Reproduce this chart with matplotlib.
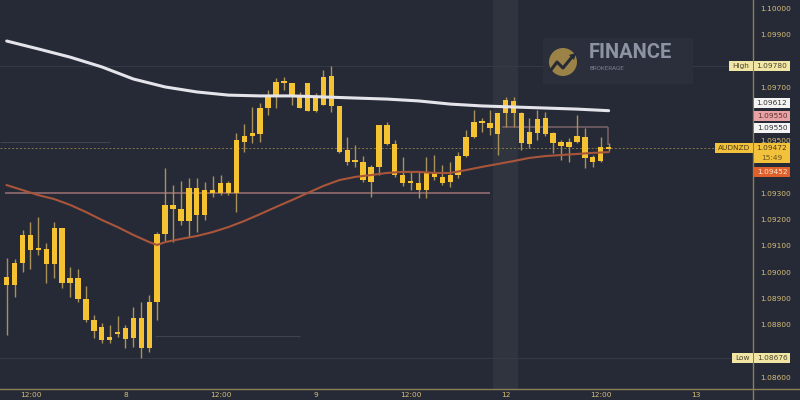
import matplotlib
matplotlib.use('Agg')
import matplotlib.pyplot as plt
from matplotlib.patches import Rectangle, Circle, Polygon
from matplotlib.lines import Line2D

# --- AUDNZD 1h candles ---
opens = [1.08982, 1.08951, 1.09035, 1.09141, 1.09084, 1.09088, 1.09031, 1.09167, 1.08959, 1.08978,
         1.08898, 1.08819, 1.08792, 1.08743, 1.08766, 1.08788, 1.08750, 1.08826, 1.08713, 1.08887,
         1.09145, 1.09255, 1.09239, 1.09194, 1.09319, 1.09217, 1.09311, 1.09300, 1.09338, 1.09300,
         1.09493, 1.09516, 1.09524, 1.09622, 1.09667, 1.09721, 1.09717, 1.09671, 1.09611, 1.09664,
         1.09633, 1.09743, 1.09630, 1.09463, 1.09417, 1.09417, 1.09342, 1.09399, 1.09558, 1.09486,
         1.09368, 1.09338, 1.09338, 1.09311, 1.09376, 1.09361, 1.09342, 1.09368, 1.09440, 1.09512,
         1.09569, 1.09565, 1.09524, 1.09603, 1.09649, 1.09603, 1.09486, 1.09527, 1.09584, 1.09527,
         1.09493, 1.09474, 1.09493, 1.09512, 1.09436, 1.09421, 1.09466]
highs = [1.09054, 1.09050, 1.09160, 1.09190, 1.09209, 1.09110, 1.09190, 1.09167, 1.09020, 1.09012,
         1.08948, 1.08838, 1.08807, 1.08800, 1.08834, 1.08800, 1.08868, 1.08887, 1.08913, 1.09152,
         1.09395, 1.09330, 1.09345, 1.09357, 1.09357, 1.09342, 1.09364, 1.09368, 1.09345, 1.09527,
         1.09562, 1.09626, 1.09641, 1.09690, 1.09736, 1.09740, 1.09717, 1.09683, 1.09717, 1.09679,
         1.09766, 1.09780, 1.09630, 1.09512, 1.09482, 1.09440, 1.09406, 1.09558, 1.09569, 1.09501,
         1.09436, 1.09380, 1.09380, 1.09436, 1.09444, 1.09406, 1.09417, 1.09455, 1.09539, 1.09615,
         1.09584, 1.09615, 1.09603, 1.09664, 1.09664, 1.09607, 1.09584, 1.09615, 1.09607, 1.09531,
         1.09501, 1.09508, 1.09596, 1.09546, 1.09444, 1.09512, 1.09490]
lows = [1.08762, 1.08906, 1.09001, 1.09012, 1.09065, 1.08959, 1.08978, 1.08940, 1.08906, 1.08887,
        1.08811, 1.08750, 1.08732, 1.08732, 1.08754, 1.08713, 1.08716, 1.08676, 1.08697, 1.08819,
        1.09114, 1.09114, 1.09179, 1.09133, 1.09152, 1.09198, 1.09285, 1.09292, 1.09292, 1.09228,
        1.09455, 1.09490, 1.09493, 1.09596, 1.09622, 1.09690, 1.09633, 1.09622, 1.09611, 1.09607,
        1.09633, 1.09607, 1.09452, 1.09406, 1.09399, 1.09342, 1.09285, 1.09368, 1.09482, 1.09361,
        1.09327, 1.09311, 1.09281, 1.09281, 1.09349, 1.09330, 1.09323, 1.09357, 1.09436, 1.09508,
        1.09531, 1.09520, 1.09444, 1.09550, 1.09550, 1.09463, 1.09471, 1.09501, 1.09516, 1.09452,
        1.09425, 1.09417, 1.09490, 1.09395, 1.09399, 1.09417, 1.09460]
closes = [1.08951, 1.09035, 1.09141, 1.09084, 1.09088, 1.09031, 1.09167, 1.08959, 1.08978, 1.08898,
          1.08819, 1.08777, 1.08743, 1.08754, 1.08773, 1.08747, 1.08826, 1.08713, 1.08887, 1.09145,
          1.09255, 1.09239, 1.09194, 1.09319, 1.09217, 1.09311, 1.09300, 1.09338, 1.09300, 1.09501,
          1.09516, 1.09527, 1.09622, 1.09671, 1.09721, 1.09717, 1.09671, 1.09622, 1.09717, 1.09611,
          1.09740, 1.09630, 1.09455, 1.09417, 1.09425, 1.09349, 1.09399, 1.09558, 1.09486, 1.09368,
          1.09338, 1.09345, 1.09311, 1.09376, 1.09361, 1.09338, 1.09368, 1.09440, 1.09512, 1.09569,
          1.09565, 1.09546, 1.09603, 1.09652, 1.09603, 1.09490, 1.09531, 1.09580, 1.09524, 1.09490,
          1.09478, 1.09493, 1.09516, 1.09433, 1.09417, 1.09474, 1.09472]

# moving averages (slow = white, fast = orange), sampled at candle indices
ma_slow_idx = [0, 4, 8, 12, 16, 20, 24, 28, 32, 36, 40, 44, 48, 52, 56, 60, 64, 68, 72, 76]
ma_slow = [1.09876, 1.09846, 1.09815, 1.09778, 1.09732, 1.09702, 1.09683, 1.09671, 1.09668, 1.09668,
           1.09664, 1.09660, 1.09656, 1.09649, 1.09637, 1.09630, 1.09626, 1.09622, 1.09618, 1.09612]
ma_fast_idx = [0, 2, 4, 6, 8, 10, 12, 14, 16, 18, 19, 20, 22, 24, 26, 28, 30, 32, 34, 36, 38,
               40, 42, 44, 46, 48, 50, 52, 54, 56, 58, 60, 62, 64, 66, 68, 70, 72, 74, 76]
ma_fast = [1.09330, 1.09311, 1.09292, 1.09277, 1.09255, 1.09228, 1.09198, 1.09171, 1.09141, 1.09114,
           1.09103, 1.09114, 1.09126, 1.09137, 1.09152, 1.09171, 1.09194, 1.09220, 1.09247, 1.09273,
           1.09300, 1.09327, 1.09349, 1.09361, 1.09368, 1.09376, 1.09380, 1.09380, 1.09376, 1.09376,
           1.09387, 1.09399, 1.09410, 1.09421, 1.09433, 1.09440, 1.09444, 1.09448, 1.09452, 1.09455]

high_price = 1.09780
low_price = 1.08676
last_price = 1.09472
support_level = 1.09300
resist_level = 1.09550

tick_idx = [3, 15, 27, 39, 51, 63, 75, 87]
tick_labels = ['12:00', '8', '12:00', '9', '12:00', '12', '12:00', '13']
# price ticks not hidden behind the tags
price_ticks = [1.086, 1.088, 1.089, 1.090, 1.091, 1.092, 1.093, 1.095, 1.097, 1.099, 1.100]

# --- colours ---
BG = '#262a37'
BAND = '#30343f'
CANDLE = '#f5c232'
WICK = '#a8925a'
AXIS = '#8b7f55'
TXT = '#d6bf78'

fig = plt.figure(figsize=(8, 4), dpi=100)
fig.patch.set_facecolor(BG)
ax = fig.add_axes([0, 11 / 400, 753 / 800, 389 / 400])
ax.set_facecolor(BG)
ax.set_xlim(-0.846, 94.23)
ax.set_ylim(1.085572, 1.100315)

# weekend session shading
ax.axvspan(61.4, 64.6, color=BAND, zorder=0, lw=0)

# faint level lines
ax.axhline(high_price, color='#353a47', lw=0.8, zorder=1)
ax.axhline(low_price, color='#353a47', lw=0.8, zorder=1)
ax.hlines(1.09493, -0.8, 13.0, color='#3f4350', lw=0.8, zorder=1)
ax.hlines(1.08758, 18.7, 37.0, color='#3f4350', lw=0.8, zorder=1)
ax.hlines(support_level, -0.2, 61.0, color='#8a6669', lw=1.3, zorder=1)
ax.hlines(resist_level, 62.6, 75.9, color='#7d6266', lw=1.1, zorder=1)
ax.vlines(75.9, 1.09482, resist_level, color='#7d6266', lw=1.1, zorder=1)
ax.axhline(last_price, color='#8c7649', lw=0.7, ls=(0, (2, 2)), zorder=1)

# candles
idx = list(range(len(opens)))
bottoms = [min(o, c) for o, c in zip(opens, closes)]
heights = [max(abs(c - o), 0.00007) for o, c in zip(opens, closes)]
ax.vlines(idx, lows, highs, color=WICK, lw=1.0, zorder=2)
ax.bar(idx, heights, bottom=bottoms, width=0.68, color=CANDLE, lw=0, zorder=3)

# moving averages
ax.plot(ma_slow_idx, ma_slow, color='#e4e4ea', lw=2.2, zorder=4, solid_capstyle='round')
ax.plot(ma_fast_idx, ma_fast, color='#a9553a', lw=1.5, zorder=4)

for s in ax.spines.values():
    s.set_visible(False)
ax.yaxis.tick_right()
ax.set_yticks(price_ticks)
ax.set_yticklabels(['%.5f' % p for p in price_ticks])
ax.set_xticks(tick_idx)
ax.set_xticklabels(tick_labels)
ax.tick_params(axis='y', length=0, pad=5, labelsize=5.3, labelcolor=TXT)
ax.tick_params(axis='x', length=0, pad=2.5, labelsize=5.3, labelcolor=TXT)

# axis lines spanning the whole frame
fig.add_artist(Line2D([753 / 800, 753 / 800], [0, 1], color=AXIS, lw=1.0))
fig.add_artist(Line2D([0, 1], [11 / 400, 11 / 400], color=AXIS, lw=1.0))

# overlay in pixel coords for price tags and logo
ov = fig.add_axes([0, 0, 1, 1], zorder=5)
ov.set_xlim(0, 800)
ov.set_ylim(400, 0)
ov.axis('off')
ov.patch.set_visible(False)


def py(p):
    return 400 - ax.transData.transform((0, p))[1]


def tag(x0, w, yc, h, text, fc, tc):
    ov.add_patch(Rectangle((x0, yc - h / 2), w, h, fc=fc, ec='none'))
    ov.text(x0 + w / 2, yc, text, ha='center', va='center', fontsize=5.3, color=tc)


PALE = '#f1e6a3'
tag(729, 24, py(high_price), 10, 'High', PALE, '#4a4530')
tag(754, 36, py(high_price), 10, '%.5f' % high_price, PALE, '#4a4530')
tag(754, 36, 103, 10, '1.09612', '#f3f3f3', '#333333')
tag(754, 36, 116, 10, '%.5f' % resist_level, '#e9a2a4', '#5a3434')
tag(754, 36, 128, 10, '1.09550', '#f3f3f3', '#333333')
tag(715, 38, py(last_price), 10, 'AUDNZD', '#f3c23c', '#4a3a10')
ov.add_patch(Rectangle((754, py(last_price) - 5), 36, 20, fc='#f3c23c', ec='none'))
ov.text(772, py(last_price), '%.5f' % last_price, ha='center', va='center', fontsize=5.3, color='#4a3a10')
ov.text(772, py(last_price) + 10, '15:49', ha='center', va='center', fontsize=5.3, color='#6a5520')
tag(754, 36, 172, 10, '1.09452', '#df602b', '#f7e6d2')
tag(732, 21, py(low_price), 10, 'Low', PALE, '#4a4530')
tag(754, 36, py(low_price), 10, '%.5f' % low_price, PALE, '#4a4530')

# watermark logo
ov.add_patch(Rectangle((543, 38), 150, 46, fc='#2b2f3c', ec='none'))
ov.add_patch(Circle((563, 62), 14, fc='#9b8347', ec='none'))
ov.plot([551, 557, 563, 572], [70, 62, 68, 57], color=BG, lw=2.2, solid_capstyle='round')
ov.add_patch(Polygon([[569, 55], [576, 53], [574, 60]], closed=True, fc=BG, ec='none'))
ov.text(589, 53, 'FINANCE', ha='left', va='center', fontsize=14.5, fontweight='bold',
        color='#8d93a3', family=['Roboto', 'DejaVu Sans'])
ov.text(590, 68, 'BROKERAGE', ha='left', va='center', fontsize=4.5,
        color='#7a8090', family=['Roboto', 'DejaVu Sans'])

fig.savefig('out.png', dpi=100, facecolor=BG)
